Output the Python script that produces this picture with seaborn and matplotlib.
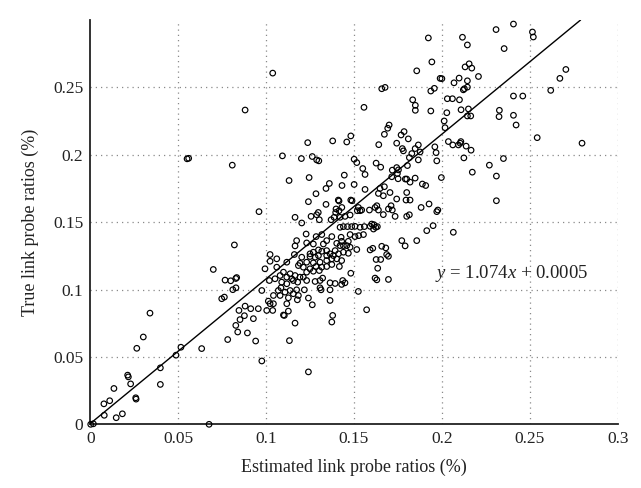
import numpy as np
import pandas as pd
import matplotlib
matplotlib.use("Agg")
import matplotlib.pyplot as plt
import seaborn as sns

# Estimated vs. true link probe ratios (%) for each monitored link
est_ratio = [
    0.0881, 0.1038, 0.1923, 0.1943, 0.1857, 0.1990, 0.2000, 0.1658, 0.1677, 0.1937,
    0.1957, 0.1557, 0.1834, 0.1849, 0.1849, 0.1937, 0.2407, 0.2308, 0.2515, 0.2520,
    0.2117, 0.2145, 0.2354, 0.2155, 0.2132, 0.2170, 0.2705, 0.2671, 0.2208, 0.2098,
    0.2069, 0.2145, 0.2122, 0.2128, 0.2145, 0.2619, 0.2407, 0.2460, 0.2031, 0.2060,
    0.2100, 0.2028, 0.2109, 0.2151, 0.2327, 0.2407, 0.2145, 0.2164, 0.2013, 0.2018,
    0.2325, 0.2422, 0.2542, 0.2797, 0.2037, 0.2062, 0.2094, 0.2108, 0.2104, 0.2138,
    0.2166, 0.1960, 0.1967, 0.1971, 0.2125, 0.2350, 0.2270, 0.2173, 0.2310, 0.1997,
    0.2310, 0.1977, 0.0551, 0.0560, 0.0808, 0.0960,
    0.1700, 0.1692, 0.1673, 0.1785, 0.1768, 0.1809, 0.1482, 0.1459, 0.1379, 0.1237,
    0.1641, 0.1743, 0.1866, 0.1848, 0.1829, 0.1815, 0.1775, 0.1781, 0.1876, 0.1866,
    0.1093, 0.1201, 0.1263, 0.1288, 0.1300, 0.1501, 0.1516, 0.1626, 0.1652, 0.1804,
    0.1550, 0.1563, 0.1743, 0.1753, 0.1718, 0.1747, 0.1715, 0.1751, 0.1792, 0.1800,
    0.1819, 0.1848, 0.1889, 0.1908, 0.1131, 0.1245, 0.1445, 0.1360, 0.1341, 0.1432,
    0.1501, 0.1648, 0.1673, 0.1639, 0.1667, 0.1563, 0.1705, 0.1800, 0.1284, 0.1411,
    0.1415, 0.1482, 0.1489, 0.1743, 0.1796, 0.1819, 0.1241, 0.1341, 0.1431, 0.1415,
    0.1398, 0.1396, 0.1525, 0.1519, 0.1535, 0.1544, 0.1588, 0.1630, 0.1620, 0.1639,
    0.1711, 0.1696, 0.1718, 0.1882, 0.1927, 0.1297, 0.1288, 0.1815,
    0.0820, 0.0700, 0.0767, 0.0799, 0.0833, 0.0828, 0.0811, 0.0829, 0.0994, 0.0976,
    0.0748, 0.0763, 0.0881, 0.0913, 0.0956, 0.0846, 0.0877, 0.0852, 0.0928, 0.0340,
    0.0828, 0.0839, 0.0894, 0.0782, 0.0941, 0.0976, 0.0302, 0.0265, 0.0516, 0.0488,
    0.0634, 0.0399, 0.0213, 0.0217, 0.0230, 0.0399, 0.0135, 0.0259, 0.0261, 0.0078,
    0.0111, 0.0080, 0.0148, 0.0183, 0.0003, 0.0018, 0.0676,
    0.1104, 0.1165, 0.1374, 0.1379, 0.1133, 0.1241, 0.2065, 0.1971,
    0.1165, 0.1203, 0.1256, 0.1303, 0.1370, 0.1387, 0.1421, 0.1449, 0.1478, 0.1734,
    0.1800, 0.1667, 0.1421, 0.1440, 0.1463, 0.1487, 0.1506, 0.1535, 0.1559, 0.1592,
    0.1601, 0.1614, 0.1624, 0.1611, 0.1633, 0.1914, 0.1950, 0.1228, 0.1285, 0.1317,
    0.1374, 0.1427, 0.1478, 0.1506, 0.1527, 0.1554, 0.1772, 0.1857, 0.1791, 0.1165,
    0.1174, 0.1231, 0.1269, 0.1326, 0.1345, 0.1402, 0.1430, 0.1468, 0.1421, 0.1440,
    0.1459, 0.1478, 0.1516, 0.1440, 0.1468, 0.1393, 0.1345, 0.1317, 0.1269, 0.1250,
    0.1298, 0.1592, 0.1607, 0.1658, 0.1681, 0.1023, 0.1061, 0.1023, 0.1161, 0.1203,
    0.1250, 0.1279, 0.1298, 0.1345, 0.1364, 0.1383, 0.1412, 0.1686, 0.1696, 0.1626,
    0.1652, 0.1193, 0.1231, 0.1269, 0.1307, 0.1345, 0.1374, 0.1402, 0.1430, 0.1374,
    0.1061, 0.1118, 0.1184, 0.1212, 0.1250, 0.1284, 0.1317, 0.1345, 0.1231, 0.1269,
    0.1303, 0.1417, 0.1482, 0.1635, 0.1099, 0.1137, 0.1165, 0.1193, 0.1146, 0.1118,
    0.1080, 0.1051, 0.1019, 0.1620, 0.1630, 0.1696, 0.1089, 0.1118, 0.1155, 0.1180,
    0.1212, 0.1231, 0.1279, 0.1322, 0.1307, 0.1364, 0.1393, 0.1436, 0.1449, 0.1430,
    0.1307, 0.1313, 0.1364, 0.1525, 0.1085, 0.1137, 0.1174, 0.1218, 0.1070, 0.1108,
    0.1155, 0.1184, 0.1080, 0.1042, 0.1127, 0.1013, 0.1023, 0.1042, 0.1004, 0.1038,
    0.1118, 0.1241, 0.1178, 0.1263, 0.1364, 0.1127, 0.1099, 0.1572,
]
true_ratio = [
    0.2332, 0.2606, 0.2867, 0.2689, 0.2623, 0.2567, 0.2565, 0.2490, 0.2500, 0.2473,
    0.2493, 0.2352, 0.2408, 0.2367, 0.2330, 0.2325, 0.2970, 0.2929, 0.2911, 0.2874,
    0.2872, 0.2815, 0.2788, 0.2675, 0.2652, 0.2643, 0.2633, 0.2567, 0.2581, 0.2569,
    0.2534, 0.2549, 0.2482, 0.2490, 0.2502, 0.2478, 0.2436, 0.2436, 0.2416, 0.2416,
    0.2408, 0.2312, 0.2334, 0.2340, 0.2330, 0.2293, 0.2288, 0.2288, 0.2251, 0.2201,
    0.2283, 0.2221, 0.2127, 0.2086, 0.2098, 0.2073, 0.2073, 0.2098, 0.2086, 0.2064,
    0.2034, 0.2059, 0.2016, 0.1955, 0.1977, 0.1972, 0.1923, 0.1871, 0.1842, 0.1831,
    0.1659, 0.1590, 0.1970, 0.1974, 0.1923, 0.1578,
    0.2221, 0.2197, 0.2152, 0.2172, 0.2147, 0.2118, 0.2140, 0.2095, 0.2103, 0.2090,
    0.2075, 0.2086, 0.2073, 0.2046, 0.2009, 0.1979, 0.2046, 0.2029, 0.2021, 0.1962,
    0.1992, 0.1972, 0.1987, 0.1962, 0.1955, 0.1967, 0.1942, 0.1938, 0.1908, 0.1920,
    0.1898, 0.1854, 0.1905, 0.1888, 0.1886, 0.1861, 0.1837, 0.1822, 0.1820, 0.1820,
    0.1797, 0.1827, 0.1783, 0.1772, 0.1809, 0.1831, 0.1849, 0.1787, 0.1750, 0.1772,
    0.1780, 0.1750, 0.1763, 0.1713, 0.1696, 0.1743, 0.1720, 0.1720, 0.1711, 0.1664,
    0.1657, 0.1664, 0.1659, 0.1672, 0.1664, 0.1664, 0.1652, 0.1632, 0.1609, 0.1585,
    0.1598, 0.1572, 0.1609, 0.1585, 0.1585, 0.1590, 0.1590, 0.1622, 0.1609, 0.1590,
    0.1622, 0.1598, 0.1590, 0.1609, 0.1635, 0.1572, 0.1555, 0.1555,
    0.1331, 0.1149, 0.1070, 0.1065, 0.1089, 0.1082, 0.0999, 0.1013, 0.1154, 0.0993,
    0.0932, 0.0944, 0.0877, 0.0858, 0.0858, 0.0845, 0.0806, 0.0777, 0.0784, 0.0825,
    0.0734, 0.0685, 0.0678, 0.0629, 0.0618, 0.0470, 0.0648, 0.0564, 0.0572, 0.0513,
    0.0562, 0.0419, 0.0365, 0.0352, 0.0300, 0.0296, 0.0266, 0.0197, 0.0187, 0.0152,
    0.0175, 0.0067, 0.0049, 0.0078, 0.0000, 0.0004, 0.0000,
    0.0808, 0.0751, 0.0759, 0.0808, 0.0621, 0.0389, 0.1425, 0.1578,
    0.1536, 0.1494, 0.1543, 0.1518, 0.1518, 0.1536, 0.1536, 0.1543, 0.1553, 0.1543,
    0.1543, 0.1556, 0.1462, 0.1467, 0.1467, 0.1467, 0.1469, 0.1462, 0.1467, 0.1469,
    0.1486, 0.1481, 0.1462, 0.1449, 0.1467, 0.1437, 0.1474, 0.1412, 0.1393, 0.1408,
    0.1393, 0.1388, 0.1408, 0.1393, 0.1400, 0.1408, 0.1363, 0.1363, 0.1324, 0.1324,
    0.1363, 0.1346, 0.1338, 0.1338, 0.1363, 0.1343, 0.1358, 0.1358, 0.1326, 0.1326,
    0.1326, 0.1314, 0.1297, 0.1277, 0.1269, 0.1289, 0.1289, 0.1284, 0.1277, 0.1265,
    0.1294, 0.1294, 0.1306, 0.1321, 0.1309, 0.1260, 0.1228, 0.1210, 0.1260, 0.1240,
    0.1245, 0.1240, 0.1252, 0.1252, 0.1265, 0.1252, 0.1265, 0.1260, 0.1247, 0.1223,
    0.1223, 0.1195, 0.1203, 0.1198, 0.1203, 0.1215, 0.1228, 0.1228, 0.1215, 0.1186,
    0.1166, 0.1203, 0.1178, 0.1166, 0.1154, 0.1171, 0.1166, 0.1171, 0.1129, 0.1136,
    0.1141, 0.1171, 0.1121, 0.1158, 0.1129, 0.1117, 0.1104, 0.1092, 0.1080, 0.1092,
    0.1104, 0.1080, 0.1067, 0.1085, 0.1072, 0.1075, 0.1055, 0.1043, 0.1067, 0.1055,
    0.1092, 0.1067, 0.1060, 0.1085, 0.1067, 0.1050, 0.1045, 0.1067, 0.1050, 0.1038,
    0.1013, 0.0998, 0.0998, 0.0986, 0.1013, 0.0993, 0.0998, 0.0998, 0.0993, 0.0981,
    0.0969, 0.0956, 0.0956, 0.0956, 0.0939, 0.0914, 0.0895, 0.0895, 0.0845, 0.0845,
    0.0895, 0.0937, 0.0924, 0.0887, 0.0919, 0.0840, 0.0811, 0.0850,
]

# Least-squares fit reported on the chart
fit_slope = 1.074
fit_intercept = 0.0005

x_ticks = [0, 0.05, 0.1, 0.15, 0.2, 0.25, 0.3]
x_tick_labels = ["0", "0.05", "0.1", "0.15", "0.2", "0.25", "0.3"]
y_ticks = [0, 0.05, 0.1, 0.15, 0.2, 0.25]
y_tick_labels = ["0", "0.05", "0.1", "0.15", "0.2", "0.25"]

sns.set_style("white")
plt.rcParams["font.family"] = ["Liberation Serif", "DejaVu Serif"]
plt.rcParams["mathtext.fontset"] = "custom"
plt.rcParams["mathtext.it"] = "Liberation Serif:italic"
plt.rcParams["mathtext.rm"] = "Liberation Serif"

df = pd.DataFrame({"est": est_ratio, "true": true_ratio})

fig = plt.figure(figsize=(6.41, 4.88), dpi=100)
ax = fig.add_axes([0.1407, 0.1305, 0.8230, 0.8285])

x_max, y_max = 0.3, 0.3
ax.set_xlim(0, x_max)
ax.set_ylim(0, y_max)

# dotted grid at the labelled ticks
for xv in x_ticks[1:]:
    ax.axvline(xv, color="#8a8a8a", lw=0.9, ls=(0, (1, 3.2)), zorder=0)
for yv in y_ticks[1:]:
    ax.axhline(yv, color="#8a8a8a", lw=0.9, ls=(0, (1, 3.2)), zorder=0)

sns.scatterplot(data=df, x="est", y="true", ax=ax, marker="o", s=16,
                facecolors="none", edgecolor="black", linewidth=0.85,
                clip_on=False, zorder=3, legend=False)

# fitted line, drawn until it leaves the top of the axes
x_end = (y_max - fit_intercept) / fit_slope
line_x = np.array([0.0, x_end])
sns.lineplot(x=line_x, y=fit_slope * line_x + fit_intercept, ax=ax,
             color="black", lw=1.0, zorder=4)

ax.text(0.196, 0.112, r"$\mathit{y}$ = 1.074$\mathit{x}$ + 0.0005",
        fontsize=13.5, ha="left", va="center", color="#222222")

ax.set_xticks(x_ticks)
ax.set_xticklabels(x_tick_labels)
ax.set_yticks(y_ticks)
ax.set_yticklabels(y_tick_labels)
ax.tick_params(axis="both", direction="in", length=4, width=1.2,
               labelsize=12.5, colors="#222222", pad=5)

for side in ("top", "right"):
    ax.spines[side].set_visible(False)
for side in ("left", "bottom"):
    ax.spines[side].set_linewidth(1.3)
    ax.spines[side].set_color("#222222")

ax.set_xlabel("Estimated link probe ratios (%)", fontsize=13, color="#222222", labelpad=8)
ax.set_ylabel("True link probe ratios (%)", fontsize=13, color="#222222", labelpad=10)

fig.savefig("out.png", dpi=100)
